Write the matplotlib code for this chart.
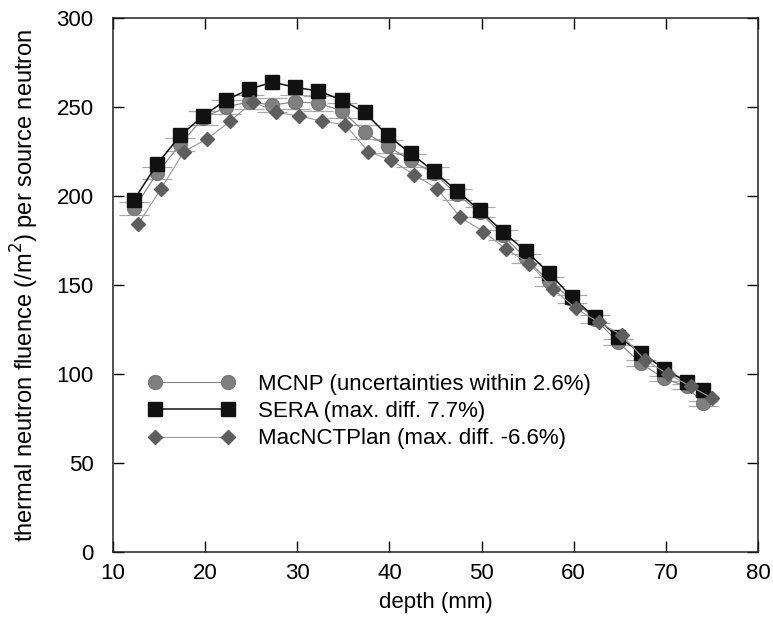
import matplotlib.pyplot as plt

plt.rcParams['font.family'] = ['Liberation Sans', 'DejaVu Sans']

# depth positions (mm)
depth = [12.3, 14.8, 17.3, 19.8, 22.3, 24.8, 27.3, 29.8, 32.3, 34.8, 37.3, 39.8, 42.3,
         44.8, 47.3, 49.8, 52.3, 54.8, 57.3, 59.8, 62.3, 64.8, 67.3, 69.8, 72.3, 74.0]
depth_mac = [12.7, 15.2, 17.7, 20.2, 22.7, 25.2, 27.7, 30.2, 32.7, 35.2, 37.7, 40.2, 42.7,
             45.2, 47.7, 50.2, 52.7, 55.2, 57.7, 60.2, 62.7, 65.2, 67.7, 70.2, 72.7, 75.0]

# thermal neutron fluence (/m^2) per source neutron
mcnp = [193, 213, 229, 244, 250, 253, 251, 253, 252, 248, 236, 228, 220,
        213, 201, 191, 178, 165, 152, 142, 131, 118, 106, 97.5, 93, 83.5]
mcnp_err = [3.5, 3.5, 3.7, 3.9, 4.0, 4.0, 4.0, 4.0, 4.0, 4.0, 3.8, 3.6, 3.5,
            3.4, 3.2, 3.0, 2.8, 2.6, 2.4, 2.3, 2.1, 1.9, 1.7, 1.6, 1.5, 1.4]
sera = [198, 218, 234, 245, 254, 260, 264, 261, 259, 254, 247, 234, 224,
        214, 203, 192, 180, 169, 157, 143, 132, 121, 112, 103, 95.5, 91]
macnct = [184, 204, 225, 232, 242, 253, 247, 245, 242, 240, 225, 220, 212,
          204, 188, 180, 170, 162, 148, 137, 129, 122, 108, 100, 93, 86.5]

labels = ["MCNP (uncertainties within 2.6%)",
          "SERA (max. diff. 7.7%)",
          "MacNCTPlan (max. diff. -6.6%)"]

fig = plt.figure(figsize=(7.73, 6.19), dpi=100)
ax = fig.add_axes([113 / 773, 1 - 552 / 619, 645 / 773, 534 / 619])

ax.errorbar(depth, mcnp, yerr=mcnp_err, fmt='none', ecolor='#aaaaaa',
            elinewidth=0.6, capsize=11, capthick=0.9, zorder=1)
ax.plot(depth, mcnp, '-o', color='#808080', lw=0.8, ms=10,
        mec='#7a7a7a', label=labels[0], zorder=2)
ax.plot(depth, sera, '-s', color='#111111', lw=1.1, ms=9.5,
        label=labels[1], zorder=3)
ax.plot(depth_mac, macnct, '-D', color='#9a9a9a', lw=0.8, ms=6.8,
        mfc='#5e5e5e', mec='#5e5e5e', label=labels[2], zorder=4)

ax.set_xlim(10, 80)
ax.set_ylim(0, 300)
ax.set_xticks(range(10, 81, 10))
ax.set_yticks(range(0, 301, 50))
ax.tick_params(direction='in', length=8, width=1, top=True, right=True,
               labelsize=16)
ax.tick_params(axis='x', pad=8)
ax.tick_params(axis='y', pad=14)
for s in ax.spines.values():
    s.set_linewidth(1.1)
    s.set_color('#222222')

ax.set_xlabel("depth (mm)", fontsize=16, labelpad=6)
ax.set_ylabel(r"thermal neutron fluence (/m$^2$) per source neutron",
              fontsize=17, labelpad=11)

leg = ax.legend(loc='upper left', bbox_to_anchor=(148 / 773, 1 - 374 / 619),
                bbox_transform=fig.transFigure, frameon=False, fontsize=16,
                numpoints=2, handlelength=3.9, handletextpad=1.05,
                labelspacing=0.28, borderpad=0, borderaxespad=0)

fig.savefig("out.png", dpi=100)
